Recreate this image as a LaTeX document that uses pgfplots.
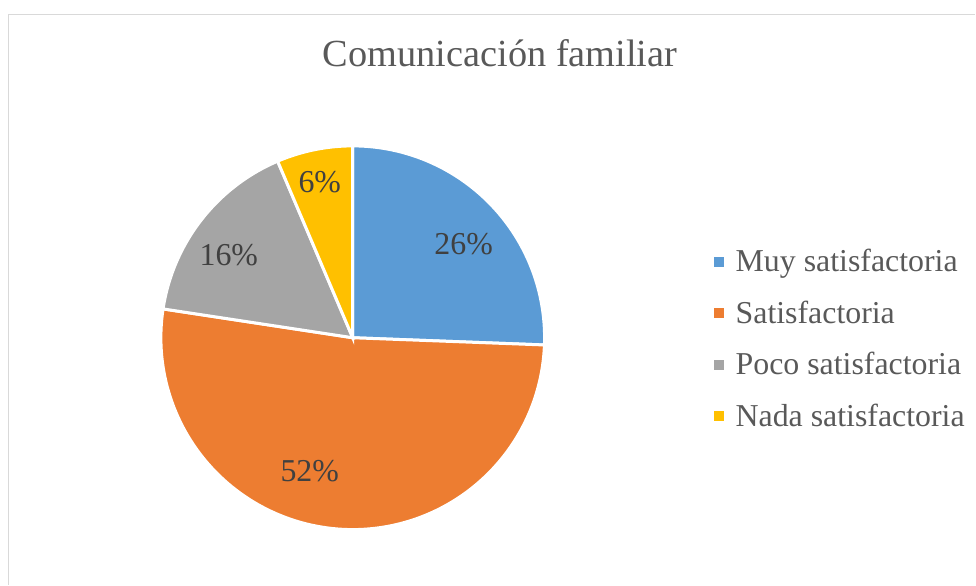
\documentclass[border=0pt]{standalone}
\usepackage{pgfplots}
\pgfplotsset{compat=1.18}
\usepackage{fontspec}
\setmainfont{Liberation Serif}
\definecolor{cBlue}{RGB}{91,155,213}
\definecolor{cOrange}{RGB}{237,125,49}
\definecolor{cGray}{RGB}{165,165,165}
\definecolor{cYellow}{RGB}{255,192,0}
\definecolor{cTitle}{RGB}{89,89,89}
\definecolor{cLabel}{RGB}{64,64,64}
\definecolor{cFrame}{RGB}{217,217,217}
\begin{document}
\begin{tikzpicture}
\begin{axis}[
  width=976bp, height=585bp, scale only axis,
  xmin=0, xmax=976, ymin=0, ymax=585,
  hide axis, clip=false,
  legend style={draw=none, fill=none, at={(axis cs:714,337)}, anchor=north west,
    font=\fontsize{32}{38}\selectfont, text=cTitle,
    row sep=19.5bp, inner sep=0pt,
    nodes={inner sep=0pt, text height=24bp, text depth=8bp, anchor=base west},
    /tikz/every odd column/.append style={column sep=12bp}},
  legend cell align=left,
  legend image code/.code={\fill[#1,draw=none] (0bp,5bp) rectangle (10bp,15bp);},
]
\path (axis cs:0,0) rectangle (axis cs:976,585);
\draw[cFrame, line width=1.5bp] (axis cs:8.5,0) -- (axis cs:8.5,570.5) -- (axis cs:976,570.5);
% values: 25.6, 51.8, 16.2, 6.4 (percent), clockwise from 12 o'clock
\addplot[fill=cBlue, draw=white, line width=3bp, domain={90-3.6*25.6}:{90}, samples=80, variable=\t]
  ({353+192*cos(\t)},{247+192*sin(\t)}) -- (axis cs:353,247) -- cycle;
\addlegendentry{Muy satisfactoria}
\addplot[fill=cOrange, draw=white, line width=3bp, domain={90-3.6*(25.6+51.8)}:{90-3.6*25.6}, samples=120, variable=\t]
  ({353+192*cos(\t)},{247+192*sin(\t)}) -- (axis cs:353,247) -- cycle;
\addlegendentry{Satisfactoria}
\addplot[fill=cGray, draw=white, line width=3bp, domain={90-3.6*(25.6+51.8+16.2)}:{90-3.6*(25.6+51.8)}, samples=60, variable=\t]
  ({353+192*cos(\t)},{247+192*sin(\t)}) -- (axis cs:353,247) -- cycle;
\addlegendentry{Poco satisfactoria}
\addplot[fill=cYellow, draw=white, line width=3bp, domain={90-3.6*(25.6+51.8+16.2+6.4)}:{90-3.6*(25.6+51.8+16.2)}, samples=40, variable=\t]
  ({353+192*cos(\t)},{247+192*sin(\t)}) -- (axis cs:353,247) -- cycle;
\addlegendentry{Nada satisfactoria}
\node[anchor=base, text=cTitle, font=\fontsize{38.5}{46}\selectfont, inner sep=0pt] at (axis cs:500.5,518) {Comunicación familiar};
\begin{scope}[every node/.style={anchor=base, text=cLabel, font=\fontsize{32}{38}\selectfont, inner sep=0pt}]
\node at (axis cs:464,330) {26\%};
\node at (axis cs:310,103) {52\%};
\node at (axis cs:229,319) {16\%};
\node at (axis cs:320,392) {6\%};
\end{scope}
\end{axis}
\end{tikzpicture}
\end{document}
